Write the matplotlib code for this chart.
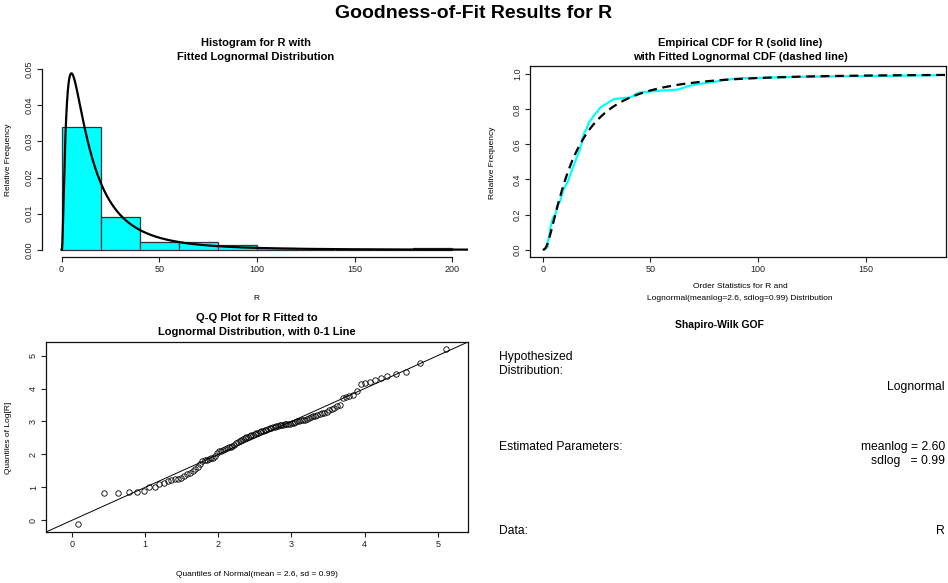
import math
from statistics import NormalDist
import numpy as np
import matplotlib
matplotlib.use("Agg")
import matplotlib.pyplot as plt

plt.rcParams['font.family'] = ['Liberation Sans', 'DejaVu Sans']

R_values = [0.89, 2.27, 2.32, 2.34, 2.39, 2.41, 2.72, 2.77, 3.00, 3.16,
            3.32, 3.39, 3.49, 3.56, 3.67, 3.86, 4.06, 4.26, 4.48, 4.71,
            5.05, 5.58, 6.05, 6.17, 6.30, 6.42, 6.55, 6.69, 7.03, 7.77,
            8.17, 8.33, 8.50, 8.76, 9.03, 9.21, 9.39, 9.68, 9.97, 10.4,
            10.8, 11.2, 11.6, 11.9, 12.2, 12.4, 12.7, 12.9, 13.2, 13.5,
            13.7, 14.0, 14.3, 14.6, 14.9, 15.2, 15.5, 15.6, 16.0, 16.3,
            16.6, 16.8, 17.1, 17.5, 17.6, 17.8, 18.0, 18.2, 18.4, 18.5,
            18.7, 18.9, 19.1, 19.3, 19.7, 20.2, 20.5, 20.8, 21.0, 21.3,
            21.8, 22.4, 23.0, 23.5, 24.0, 24.5, 25.2, 25.8, 26.3, 27.0,
            28.2, 29.5, 30.6, 31.8, 33.0, 40.5, 42.0, 43.0, 44.5, 51.0,
            63.0, 65.0, 67.0, 70.0, 75.0, 80.5, 84.0, 91.0, 119.0, 183.0]

meanlog = 2.60
sdlog = 0.99
hist_breaks = [0, 20, 40, 60, 80, 100, 120, 140, 160, 180, 200]
plot_pos_con = 0.375

hist_xticks = [0, 50, 100, 150, 200]
hist_yticks = [0.00, 0.01, 0.02, 0.03, 0.04, 0.05]
ecdf_xticks = [0, 50, 100, 150]
ecdf_yticks = [0.0, 0.2, 0.4, 0.6, 0.8, 1.0]
qq_ticks = [0, 1, 2, 3, 4, 5]

main_title = "Goodness-of-Fit Results for R"

# ---------------- derived ----------------
nd = NormalDist()
Rs = np.sort(np.array(R_values))
n = len(Rs)
pp = (np.arange(1, n + 1) - plot_pos_con) / (n + 1 - 2 * plot_pos_con)
zq = np.array([nd.inv_cdf(p) for p in pp])
qq_x = meanlog + sdlog * zq
qq_y = np.log(Rs)


def lnorm_pdf(x):
    x = np.asarray(x, float)
    out = np.zeros_like(x)
    m = x > 0
    out[m] = np.exp(-(np.log(x[m]) - meanlog) ** 2 / (2 * sdlog ** 2)) / (x[m] * sdlog * math.sqrt(2 * math.pi))
    return out


def lnorm_cdf(x):
    x = np.asarray(x, float)
    out = np.zeros_like(x)
    m = x > 0
    out[m] = [0.5 * (1 + math.erf((math.log(v) - meanlog) / (sdlog * math.sqrt(2)))) for v in x[m]]
    return out


# ---------------- figure ----------------
W, H = 948, 583
fig = plt.figure(figsize=(W / 100, H / 100), dpi=100)
fig.patch.set_facecolor('white')


def px_axes(l, t, r, b):
    return fig.add_axes([l / W, 1 - b / H, (r - l) / W, (b - t) / H])


def ftext(x, y, s, **kw):
    fig.text(x / W, 1 - y / H, s, **kw)


def style(ax, yfmt):
    ax.tick_params(direction='out', length=3.8, width=0.8, labelsize=6.5, pad=2, colors='#222222')
    ax.tick_params(axis='y', labelrotation=90)
    for lbl in ax.get_yticklabels():
        lbl.set_va('center')
    ax.set_yticklabels([yfmt.format(v) for v in ax.get_yticks()], rotation=90, va='center')
    for s in ax.spines.values():
        s.set_linewidth(0.9)
        s.set_color('#111111')


TITLE_FS = 8
LAB_FS = 6

ftext(474, 14, main_title, ha='center', va='center', fontsize=14, fontweight='bold')

# ---- panel 1: histogram ----
ax1 = px_axes(42, 62, 468, 257)
ax1.hist(Rs, bins=hist_breaks, density=True, color='#00FFFF', edgecolor='#333333', linewidth=0.9)
xg = np.linspace(0, 210, 1500)
ax1.plot(xg, lnorm_pdf(xg), color='black', lw=1.6)
ax1.set_xlim(-10, 208)
ax1.set_ylim(-0.002, 0.052)
ax1.set_xticks(hist_xticks)
ax1.set_yticks(hist_yticks)
ax1.spines['top'].set_visible(False)
ax1.spines['right'].set_visible(False)
ax1.spines['bottom'].set_bounds(0, 200)
ax1.spines['left'].set_bounds(0, 0.05)
style(ax1, "{:.2f}")
ftext(256, 43, "Histogram for R with", ha='center', va='center', fontsize=TITLE_FS, fontweight='bold')
ftext(256, 57, "Fitted Lognormal Distribution", ha='center', va='center', fontsize=TITLE_FS, fontweight='bold')
ftext(256, 298, "R", ha='center', va='center', fontsize=LAB_FS)
ftext(9, 160, "Relative Frequency", ha='center', va='center', rotation=90, fontsize=LAB_FS)

# ---- panel 2: ECDF ----
ax2 = px_axes(530, 66, 946, 257)
ax2.plot(Rs, pp, color='#00FFFF', lw=1.6, solid_joinstyle='round')
xc = np.linspace(0, 190, 800)
ax2.plot(xc, lnorm_cdf(xc), color='black', lw=1.6, dashes=(4, 2.5))
ax2.set_xlim(-5.9, 187.1)
ax2.set_ylim(-0.042, 1.047)
ax2.set_xticks(ecdf_xticks)
ax2.set_yticks(ecdf_yticks)
style(ax2, "{:.1f}")
ftext(740, 43, "Empirical CDF for R (solid line)", ha='center', va='center', fontsize=TITLE_FS, fontweight='bold')
ftext(740, 57, "with Fitted Lognormal CDF (dashed line)", ha='center', va='center', fontsize=TITLE_FS, fontweight='bold')
ftext(740, 287, "Order Statistics for R and", ha='center', va='center', fontsize=LAB_FS)
ftext(740, 299, "Lognormal(meanlog=2.6, sdlog=0.99) Distribution", ha='center', va='center', fontsize=LAB_FS)
ftext(492, 163, "Relative Frequency", ha='center', va='center', rotation=90, fontsize=LAB_FS)

# ---- panel 3: Q-Q ----
ax3 = px_axes(46, 342, 468, 532)
lims = (-0.35, 5.41)
ax3.plot(lims, lims, color='black', lw=0.7)
ax3.plot(qq_x, qq_y, linestyle='none', marker='o', markersize=3.9, markerfacecolor='none',
         markeredgecolor='black', markeredgewidth=0.6)
ax3.set_xlim(*lims)
ax3.set_ylim(*lims)
ax3.set_xticks(qq_ticks)
ax3.set_yticks(qq_ticks)
style(ax3, "{:.0f}")
ftext(257, 318, "Q-Q Plot for R Fitted to", ha='center', va='center', fontsize=TITLE_FS, fontweight='bold')
ftext(257, 332, "Lognormal Distribution, with 0-1 Line", ha='center', va='center', fontsize=TITLE_FS, fontweight='bold')
ftext(257, 575, "Quantiles of Normal(mean = 2.6, sd = 0.99)", ha='center', va='center', fontsize=LAB_FS)
ftext(9, 438, "Quantiles of Log[R]", ha='center', va='center', rotation=90, fontsize=LAB_FS)

# ---- panel 4: text results ----
TX = 8.7
ftext(719, 325, "Shapiro-Wilk GOF", ha='center', va='center', fontsize=7.5, fontweight='bold')
ftext(499, 357, "Hypothesized", ha='left', va='center', fontsize=TX)
ftext(499, 371, "Distribution:", ha='left', va='center', fontsize=TX)
ftext(945, 387, "Lognormal", ha='right', va='center', fontsize=TX)
ftext(499, 447, "Estimated Parameters:", ha='left', va='center', fontsize=TX)
ftext(945, 447, "meanlog = %.2f" % meanlog, ha='right', va='center', fontsize=TX)
ftext(945, 461, "sdlog   = %.2f" % sdlog, ha='right', va='center', fontsize=TX)
ftext(499, 531, "Data:", ha='left', va='center', fontsize=TX)
ftext(945, 531, "R", ha='right', va='center', fontsize=TX)

fig.savefig("out.png", dpi=100)
